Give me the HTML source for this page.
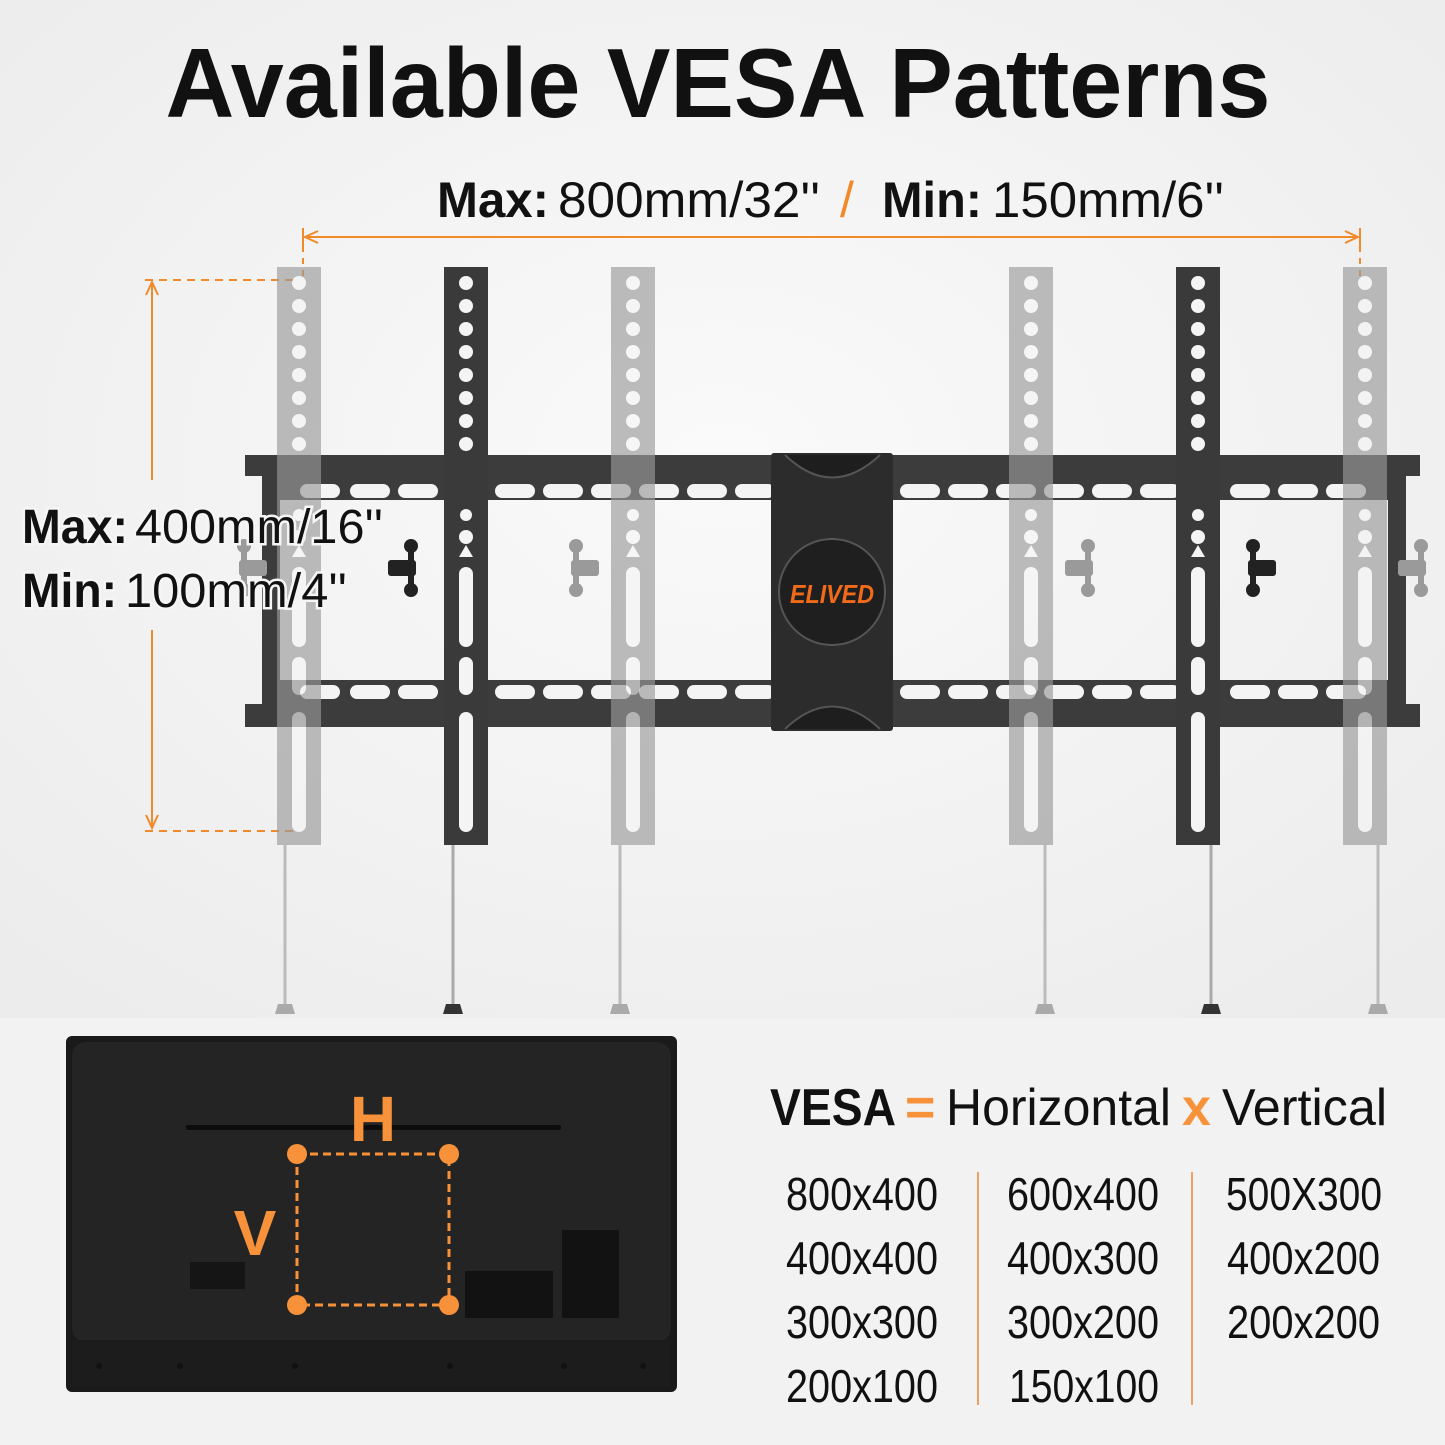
<!DOCTYPE html>
<html><head><meta charset="utf-8"><style>
html,body{margin:0;padding:0;background:#f3f3f3}
svg{display:block}
text{font-family:"Liberation Sans",sans-serif}
</style></head><body>
<svg width="1445" height="1445" viewBox="0 0 1445 1445" xmlns="http://www.w3.org/2000/svg">
<defs>
<radialGradient id="bg" cx="0.5" cy="0.45" r="0.7"><stop offset="0" stop-color="#fafafa"/><stop offset="1" stop-color="#ececec"/></radialGradient>
<g id="bar">
  <rect x="-22" y="0" width="44" height="578"/>
  <g fill="#f4f4f4">
    <circle cx="0" cy="16" r="7"/><circle cx="0" cy="39" r="7"/><circle cx="0" cy="62" r="7"/><circle cx="0" cy="85" r="7"/>
    <circle cx="0" cy="108" r="7"/><circle cx="0" cy="131" r="7"/><circle cx="0" cy="154" r="7"/><circle cx="0" cy="177" r="7"/>
    <circle cx="0" cy="248" r="6"/><circle cx="0" cy="270" r="7"/>
    <polygon points="0,278 -7,290 7,290"/>
    <rect x="-7" y="300" width="14" height="80" rx="7"/>
    <rect x="-7" y="390" width="14" height="38" rx="7"/>
    <rect x="-7" y="445" width="14" height="120" rx="7"/>
  </g>
</g>
<g id="slots" fill="#f4f4f4">
  <rect x="0" y="-7" width="40" height="14" rx="7"/>
</g>
<g id="thandle">
  <rect x="-22" y="-8" width="28" height="16" rx="3"/>
  <rect x="-2" y="-22" width="6" height="44"/>
  <circle cx="1" cy="-22" r="7"/><circle cx="1" cy="22" r="7"/>
</g>
</defs>
<rect width="1445" height="1018" fill="url(#bg)"/>
<rect y="1018" width="1445" height="427" fill="#f2f2f2"/>

<text x="718" y="117" text-anchor="middle" font-size="98" font-weight="bold" fill="#111" textLength="1105" lengthAdjust="spacingAndGlyphs">Available VESA Patterns</text>

<text y="217" font-size="50" fill="#111"><tspan x="437" font-weight="bold" textLength="112" lengthAdjust="spacingAndGlyphs">Max:</tspan><tspan x="558" textLength="262" lengthAdjust="spacingAndGlyphs">800mm/32''</tspan><tspan x="840" fill="#f08a2a">/</tspan><tspan x="882" font-weight="bold" textLength="100" lengthAdjust="spacingAndGlyphs">Min:</tspan><tspan x="992" textLength="232" lengthAdjust="spacingAndGlyphs">150mm/6''</tspan></text>

<g stroke="#f08a2a" stroke-width="2" fill="none">
  <line x1="305" y1="237" x2="1358" y2="237"/>
  <line x1="303" y1="228" x2="303" y2="246"/><line x1="1360" y1="228" x2="1360" y2="246"/>
  <polyline points="318,231 305,237 318,243"/><polyline points="1345,231 1358,237 1345,243"/>
  <line x1="303" y1="246" x2="303" y2="278" stroke-dasharray="6,6"/>
  <line x1="1360" y1="246" x2="1360" y2="278" stroke-dasharray="6,6"/>
  <line x1="152" y1="282" x2="152" y2="480"/>
  <line x1="152" y1="630" x2="152" y2="828"/>
  <polyline points="146,295 152,282 158,295"/><polyline points="146,815 152,828 158,815"/>
  <line x1="145" y1="280" x2="295" y2="280" stroke-dasharray="8,6"/>
  <line x1="145" y1="831" x2="295" y2="831" stroke-dasharray="8,6"/>
</g>

<g fill="#3c3c3c">
  <rect x="245" y="455" width="1175" height="21"/>
  <rect x="262" y="476" width="1138" height="24"/>
  <rect x="262" y="680" width="1138" height="24"/>
  <rect x="245" y="704" width="1175" height="23"/>
  <rect x="262" y="476" width="18" height="228"/>
  <rect x="1388" y="476" width="18" height="228"/>
</g>
<g>
  <use href="#slots" x="300" y="491"/><use href="#slots" x="350" y="491"/><use href="#slots" x="398" y="491"/><use href="#slots" x="495" y="491"/><use href="#slots" x="543" y="491"/><use href="#slots" x="591" y="491"/><use href="#slots" x="639" y="491"/><use href="#slots" x="687" y="491"/><use href="#slots" x="735" y="491"/>
  <use href="#slots" x="900" y="491"/><use href="#slots" x="948" y="491"/><use href="#slots" x="996" y="491"/><use href="#slots" x="1044" y="491"/><use href="#slots" x="1092" y="491"/><use href="#slots" x="1140" y="491"/><use href="#slots" x="1230" y="491"/><use href="#slots" x="1278" y="491"/><use href="#slots" x="1326" y="491"/>
  <use href="#slots" x="300" y="692"/><use href="#slots" x="350" y="692"/><use href="#slots" x="398" y="692"/><use href="#slots" x="495" y="692"/><use href="#slots" x="543" y="692"/><use href="#slots" x="591" y="692"/><use href="#slots" x="639" y="692"/><use href="#slots" x="687" y="692"/><use href="#slots" x="735" y="692"/>
  <use href="#slots" x="900" y="692"/><use href="#slots" x="948" y="692"/><use href="#slots" x="996" y="692"/><use href="#slots" x="1044" y="692"/><use href="#slots" x="1092" y="692"/><use href="#slots" x="1140" y="692"/><use href="#slots" x="1230" y="692"/><use href="#slots" x="1278" y="692"/><use href="#slots" x="1326" y="692"/>
</g>

<g fill="#222"><use href="#thandle" x="410" y="568"/><use href="#thandle" transform="translate(1254,568) scale(-1,1)"/></g>
<g fill="#9a9a9a"><use href="#thandle" transform="translate(577,568) scale(-1,1)"/><use href="#thandle" x="1087" y="568"/><use href="#thandle" x="1420" y="568"/><use href="#thandle" transform="translate(245,568) scale(-1,1)"/></g>

<g stroke-width="3">
  <line x1="285" y1="845" x2="285" y2="1006" stroke="#bbb"/>
  <line x1="453" y1="845" x2="453" y2="1006" stroke="#aaa"/>
  <line x1="620" y1="845" x2="620" y2="1006" stroke="#bbb"/>
  <line x1="1045" y1="845" x2="1045" y2="1006" stroke="#bbb"/>
  <line x1="1211" y1="845" x2="1211" y2="1006" stroke="#aaa"/>
  <line x1="1378" y1="845" x2="1378" y2="1006" stroke="#bbb"/>
</g>
<g>
  <polygon points="278,1004 292,1004 295,1014 275,1014" fill="#aaa"/>
  <polygon points="446,1004 460,1004 463,1014 443,1014" fill="#333"/>
  <polygon points="613,1004 627,1004 630,1014 610,1014" fill="#aaa"/>
  <polygon points="1038,1004 1052,1004 1055,1014 1035,1014" fill="#aaa"/>
  <polygon points="1204,1004 1218,1004 1221,1014 1201,1014" fill="#333"/>
  <polygon points="1371,1004 1385,1004 1388,1014 1368,1014" fill="#aaa"/>
</g>

<g fill="#3a3a3a"><use href="#bar" x="466" y="267"/><use href="#bar" x="1198" y="267"/></g>
<g fill="#999" opacity="0.65"><use href="#bar" x="299" y="267"/><use href="#bar" x="633" y="267"/><use href="#bar" x="1031" y="267"/><use href="#bar" x="1365" y="267"/></g>

<rect x="771" y="453" width="122" height="278" rx="3" fill="#2c2c2c"/>
<path d="M785,455 Q832,500 880,455" fill="#1e1e1e" stroke="#555" stroke-width="2"/>
<path d="M785,729 Q832,684 880,729" fill="#1e1e1e" stroke="#555" stroke-width="2"/>
<circle cx="832" cy="592" r="53" fill="#1f1f1f" stroke="#555" stroke-width="2"/>
<text x="832" y="603" text-anchor="middle" font-size="26" font-weight="bold" font-style="italic" fill="#f06a1a" textLength="84" lengthAdjust="spacingAndGlyphs">ELIVED</text>

<g font-size="48" fill="#111" stroke="#f5f5f5" stroke-width="5" paint-order="stroke">
  <text y="543"><tspan x="22" font-weight="bold" textLength="106" lengthAdjust="spacingAndGlyphs">Max:</tspan><tspan x="135" textLength="248" lengthAdjust="spacingAndGlyphs">400mm/16''</tspan></text>
  <text y="607"><tspan x="22" font-weight="bold" textLength="95" lengthAdjust="spacingAndGlyphs">Min:</tspan><tspan x="125" textLength="222" lengthAdjust="spacingAndGlyphs">100mm/4''</tspan></text>
</g>

<rect x="66" y="1036" width="611" height="356" rx="6" fill="#1a1a1a"/>
<rect x="72" y="1042" width="599" height="300" rx="14" fill="#242424"/>
<rect x="72" y="1340" width="599" height="46" fill="#1c1c1c"/>
<rect x="186" y="1125" width="375" height="5" rx="2" fill="#0c0c0c"/>
<rect x="190" y="1262" width="55" height="27" fill="#151515"/>
<rect x="465" y="1271" width="88" height="47" fill="#121212"/>
<rect x="562" y="1230" width="57" height="88" fill="#121212"/>
<g fill="#111"><circle cx="99" cy="1366" r="3"/><circle cx="180" cy="1366" r="3"/><circle cx="295" cy="1366" r="3"/><circle cx="450" cy="1366" r="3"/><circle cx="564" cy="1366" r="3"/><circle cx="643" cy="1366" r="3"/></g>
<text x="373" y="1141" text-anchor="middle" font-size="64" font-weight="bold" fill="#f7923a">H</text>
<text x="255" y="1255" text-anchor="middle" font-size="64" font-weight="bold" fill="#f7923a">V</text>
<rect x="297" y="1154" width="152" height="151" fill="none" stroke="#f7923a" stroke-width="3" stroke-dasharray="8,5"/>
<g fill="#f7923a"><circle cx="297" cy="1154" r="10"/><circle cx="449" cy="1154" r="10"/><circle cx="297" cy="1305" r="10"/><circle cx="449" cy="1305" r="10"/></g>

<text y="1125" font-size="52" fill="#111"><tspan x="770" font-weight="bold" textLength="126" lengthAdjust="spacingAndGlyphs">VESA</tspan><tspan x="905" font-weight="bold" fill="#f7923a">=</tspan><tspan x="946" textLength="225" lengthAdjust="spacingAndGlyphs">Horizontal</tspan><tspan x="1182" font-weight="bold" fill="#f7923a">x</tspan><tspan x="1222" textLength="165" lengthAdjust="spacingAndGlyphs">Vertical</tspan></text>

<g stroke="#f0a060" stroke-width="2"><line x1="978" y1="1172" x2="978" y2="1405"/><line x1="1192" y1="1172" x2="1192" y2="1405"/></g>
<g font-size="46" fill="#111">
  <text x="786" y="1210" textLength="152" lengthAdjust="spacingAndGlyphs">800x400</text>
  <text x="786" y="1274" textLength="152" lengthAdjust="spacingAndGlyphs">400x400</text>
  <text x="786" y="1338" textLength="152" lengthAdjust="spacingAndGlyphs">300x300</text>
  <text x="786" y="1402" textLength="152" lengthAdjust="spacingAndGlyphs">200x100</text>
  <text x="1007" y="1210" textLength="152" lengthAdjust="spacingAndGlyphs">600x400</text>
  <text x="1007" y="1274" textLength="152" lengthAdjust="spacingAndGlyphs">400x300</text>
  <text x="1007" y="1338" textLength="152" lengthAdjust="spacingAndGlyphs">300x200</text>
  <text x="1009" y="1402" textLength="150" lengthAdjust="spacingAndGlyphs">150x100</text>
  <text x="1226" y="1210" textLength="156" lengthAdjust="spacingAndGlyphs">500X300</text>
  <text x="1227" y="1274" textLength="153" lengthAdjust="spacingAndGlyphs">400x200</text>
  <text x="1227" y="1338" textLength="153" lengthAdjust="spacingAndGlyphs">200x200</text>
</g>
</svg>
</body></html>
